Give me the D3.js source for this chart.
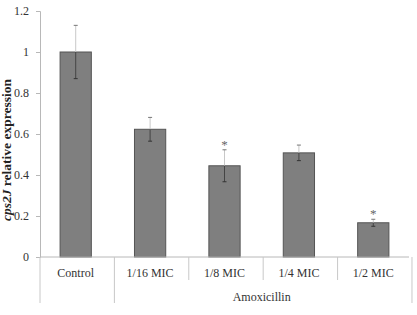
<!DOCTYPE html>
<html>
<head>
<meta charset="utf-8">
<script src="https://cdn.jsdelivr.net/npm/d3@7"></script>
<style>
  body { margin: 0; background: #fff; }
  text { font-family: "Liberation Serif", "Times New Roman", serif; }
</style>
</head>
<body>
<div id="chart"></div>
<script>
const categories = ['Control', '1/16 MIC', '1/8 MIC', '1/4 MIC', '1/2 MIC']
const values = [1.0, 0.623, 0.445, 0.508, 0.167]
const errors = [0.13, 0.058, 0.078, 0.038, 0.017]
const significant = [false, false, true, false, true]
const yTicks = [0, 0.2, 0.4, 0.6, 0.8, 1, 1.2]
const groupLabel = 'Amoxicillin'

const W = 417
const H = 315
const MARGIN = { top: 11, right: 8, bottom: 58, left: 40 }
const chartWidth = W - MARGIN.left - MARGIN.right
const chartHeight = H - MARGIN.top - MARGIN.bottom

const svg = d3.select('#chart')
  .append('svg')
  .attr('width', W)
  .attr('height', H)

const g = svg.append('g')
  .attr('transform', `translate(${MARGIN.left},${MARGIN.top})`)

const xScale = d3.scaleBand()
  .domain(categories)
  .range([0, chartWidth])
  .paddingInner(0.58)
  .paddingOuter(0.27)

const yScale = d3.scaleLinear()
  .domain([0, 1.2])
  .range([chartHeight, 0])

// y axis
const yAxis = d3.axisLeft(yScale)
  .tickValues(yTicks)
  .tickFormat(d => d3.format('')(d))
  .tickSize(4)
  .tickPadding(7)

const ya = g.append('g').call(yAxis)
ya.select('.domain').attr('stroke', '#b8b8b8')
ya.selectAll('line').attr('stroke', '#b8b8b8')
ya.selectAll('text')
  .style('font-size', '12px')
  .attr('fill', '#333')

// bars
g.selectAll('rect.bar')
  .data(values)
  .enter()
  .append('rect')
  .classed('bar', true)
  .attr('x', (d, i) => xScale(categories[i]))
  .attr('y', d => yScale(d))
  .attr('width', xScale.bandwidth())
  .attr('height', d => chartHeight - yScale(d))
  .attr('fill', '#7f7f7f')
  .attr('stroke', '#555')
  .attr('stroke-width', 1)

// error bars
const err = g.selectAll('g.err')
  .data(values)
  .enter()
  .append('g')
  .classed('err', true)
  .attr('transform', (d, i) => `translate(${xScale(categories[i]) + xScale.bandwidth() / 2},0)`)

err.append('line')
  .attr('y1', (d, i) => yScale(d + errors[i]))
  .attr('y2', d => yScale(d))
  .attr('stroke', '#c8c8c8')
err.append('line')
  .attr('y1', d => yScale(d))
  .attr('y2', (d, i) => yScale(d - errors[i]))
  .attr('stroke', '#444')
err.append('line')
  .attr('x1', -2).attr('x2', 2)
  .attr('y1', (d, i) => yScale(d + errors[i]))
  .attr('y2', (d, i) => yScale(d + errors[i]))
  .attr('stroke', '#777')
err.append('line')
  .attr('x1', -2).attr('x2', 2)
  .attr('y1', (d, i) => yScale(d - errors[i]))
  .attr('y2', (d, i) => yScale(d - errors[i]))
  .attr('stroke', '#333')

err.filter((d, i) => significant[i])
  .append('text')
  .attr('text-anchor', 'middle')
  .attr('y', d => yScale(d + errors[values.indexOf(d)]) - 1)
  .style('font-size', '13px')
  .attr('fill', '#666')
  .text('*')

// x axis line and category dividers
const step = xScale.step()
const edges = d3.range(categories.length + 1).map(i => i * step)
g.append('line')
  .attr('x1', 0).attr('x2', chartWidth)
  .attr('y1', chartHeight).attr('y2', chartHeight)
  .attr('stroke', '#b8b8b8')

const longEdges = [0, 1, categories.length]
g.selectAll('line.div')
  .data(edges)
  .enter()
  .append('line')
  .classed('div', true)
  .attr('x1', d => d).attr('x2', d => d)
  .attr('y1', chartHeight)
  .attr('y2', (d, i) => chartHeight + (longEdges.includes(i) ? 46 : 23))
  .attr('stroke', '#c8c8c8')

g.selectAll('text.cat')
  .data(categories)
  .enter()
  .append('text')
  .classed('cat', true)
  .attr('x', d => xScale(d) + xScale.bandwidth() / 2)
  .attr('y', chartHeight + 20)
  .attr('text-anchor', 'middle')
  .style('font-size', '12px')
  .attr('fill', '#333')
  .text(d => d)

g.append('text')
  .attr('x', (step + chartWidth) / 2)
  .attr('y', chartHeight + 44)
  .attr('text-anchor', 'middle')
  .style('font-size', '12px')
  .attr('fill', '#333')
  .text(groupLabel)

// y label
const yl = svg.append('text')
  .attr('transform', `translate(11,${MARGIN.top + chartHeight / 2 + 16}) rotate(-90)`)
  .attr('text-anchor', 'middle')
  .style('font-size', '13.5px')
  .style('font-weight', 'bold')
  .attr('fill', '#222')
yl.append('tspan').style('font-style', 'italic').text('cps2J')
yl.append('tspan').text(' relative expression')
</script>
</body>
</html>
